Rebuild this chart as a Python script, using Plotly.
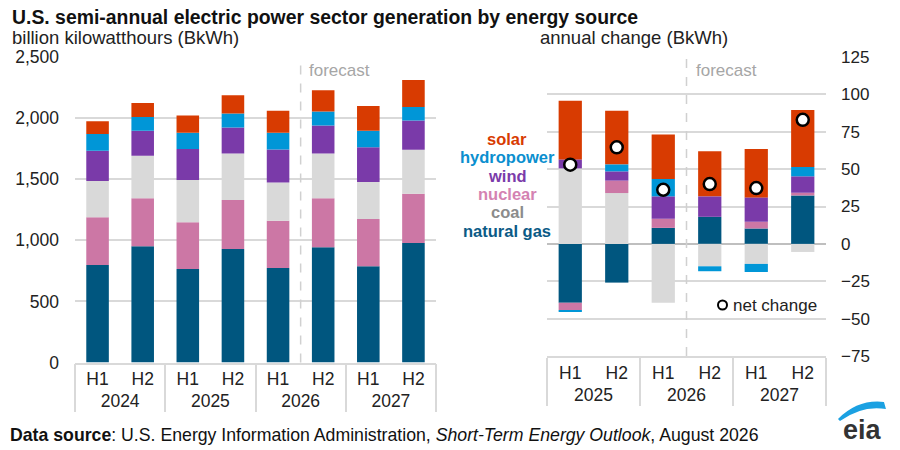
import plotly.graph_objects as go

# ---------------- data ----------------
years_left = ["2024", "2024", "2025", "2025", "2026", "2026", "2027", "2027"]
halves_left = ["H1", "H2", "H1", "H2", "H1", "H2", "H1", "H2"]

gen_gas = [798, 951, 765, 929, 773, 943, 787, 978]
gen_nuclear = [390, 393, 382, 401, 388, 401, 388, 402]
gen_coal = [298, 347, 347, 380, 312, 366, 303, 360]
gen_wind = [246, 205, 254, 213, 270, 230, 284, 241]
gen_hydro = [137, 112, 132, 115, 137, 114, 134, 109]
gen_solar = [106, 115, 142, 148, 180, 173, 202, 221]

years_right = ["2025", "2025", "2026", "2026", "2027", "2027"]
halves_right = ["H1", "H2", "H1", "H2", "H1", "H2"]

chg_gas = [-39.4, -25.9, 10.7, 18.1, 10.3, 32.4]
chg_coal = [50.5, 34.0, -39.4, -15.0, -13.4, -5.4]
chg_nuclear = [-5.0, 8.3, 6.1, 0.0, 4.5, 1.8]
chg_wind = [6.0, 6.2, 15.0, 13.7, 16.3, 11.0]
chg_hydro = [-0.7, 4.7, 11.6, -3.3, -5.4, 6.3]
chg_solar = [39.3, 35.8, 29.7, 30.1, 32.4, 38.0]
chg_net = [53.0, 64.6, 36.2, 40.0, 37.3, 83.0]

left_ticks = [0, 500, 1000, 1500, 2000, 2500]
right_ticks = [-75, -50, -25, 0, 25, 50, 75, 100, 125]

# ---------------- styles ----------------
FONT = "Liberation Sans, Arial, sans-serif"
C_GAS, C_NUC, C_COAL = "#00567F", "#CC77A5", "#D9D9D9"
C_WIND, C_HYDRO, C_SOLAR = "#7A3AA9", "#0096D7", "#D83B01"
GRID = "#D9D9D9"
TXT = "#222222"

fig = go.Figure()

xl = [years_left, halves_left]
xr = [years_right, halves_right]

for name, vals, col in [("natural gas", gen_gas, C_GAS), ("nuclear", gen_nuclear, C_NUC),
                        ("coal", gen_coal, C_COAL), ("wind", gen_wind, C_WIND),
                        ("hydropower", gen_hydro, C_HYDRO), ("solar", gen_solar, C_SOLAR)]:
    fig.add_trace(go.Bar(x=xl, y=vals, name=name, marker=dict(color=col, line=dict(width=0)),
                         showlegend=False, xaxis="x", yaxis="y"))

for name, vals, col in [("natural gas", chg_gas, C_GAS), ("coal", chg_coal, C_COAL),
                        ("nuclear", chg_nuclear, C_NUC), ("wind", chg_wind, C_WIND),
                        ("hydropower", chg_hydro, C_HYDRO), ("solar", chg_solar, C_SOLAR)]:
    fig.add_trace(go.Bar(x=xr, y=vals, name=name, marker=dict(color=col, line=dict(width=0)),
                         showlegend=False, xaxis="x2", yaxis="y2"))

fig.add_trace(go.Scatter(x=xr, y=chg_net, mode="markers", name="net change",
                         marker=dict(size=12, color="white", line=dict(color="black", width=2.5)),
                         showlegend=False, xaxis="x2", yaxis="y2"))

W, H = 900, 450
def px(x):
    return x / W
def py(y):
    return 1 - y / H

xaxis_common = dict(type="multicategory", showdividers=True, dividercolor=GRID, dividerwidth=1.5,
                    showline=True, linecolor=GRID, linewidth=1.5, showgrid=False,
                    ticks="outside", ticklen=14, tickcolor="rgba(0,0,0,0)",
                    tickfont=dict(family=FONT, size=17.5, color=TXT))

fig.update_layout(
    width=W, height=H, margin=dict(l=0, r=0, t=0, b=0, pad=0), autosize=False,
    paper_bgcolor="white", plot_bgcolor="white",
    barmode="relative", bargap=0.5,
    font=dict(family=FONT, color=TXT),
    xaxis=dict(domain=[px(75), px(436)], anchor="y", automargin=False, **xaxis_common),
    yaxis=dict(domain=[py(362.5), py(57)], range=[0, 2500], tickvals=left_ticks,
               tickformat=",", showgrid=True, gridcolor=GRID, gridwidth=1.5, automargin=False,
               zeroline=False, showline=False, ticks="", ticklabelstandoff=15,
               anchor="x", tickfont=dict(family=FONT, size=17.5, color=TXT)),
    xaxis2=dict(domain=[px(547), px(826)], anchor="y2", automargin=False, **xaxis_common),
    yaxis2=dict(domain=[py(356), py(57)], range=[-75, 125], tickvals=right_ticks,
                side="right", anchor="x2", showgrid=True, gridcolor=GRID, gridwidth=1.5,
                zeroline=True, zerolinecolor="#BFBFBF", zerolinewidth=1.5, automargin=False,
                showline=False, ticks="", ticklabelstandoff=14,
                tickfont=dict(family=FONT, size=17, color=TXT)),
)

shapes = []
# forecast lines
shapes.append(dict(type="line", xref="x", yref="paper", x0=4.5, x1=4.5, y0=py(362.5), y1=py(57),
                   line=dict(color="#D0D0D0", width=1.5, dash="dash")))
shapes.append(dict(type="line", xref="x2", yref="paper", x0=2.5, x1=2.5, y0=py(356), y1=py(57),
                   line=dict(color="#D0D0D0", width=1.5, dash="dash")))
# net change legend circle
shapes.append(dict(type="circle", xref="paper", yref="paper",
                   x0=px(718), x1=px(727), y0=py(309.5), y1=py(300.5),
                   line=dict(color="black", width=2), fillcolor="white"))
# eia logo arc
def P(x, y):
    return f"{px(x):.4f},{py(y):.4f}"
arc = (f"M {P(838,419)} Q {P(858,399)} {P(884,402)} L {P(886,409)} "
       f"Q {P(862,405)} {P(840,421)} Z")
shapes.append(dict(type="path", xref="paper", yref="paper", path=arc,
                   fillcolor="#1BA1E2", line=dict(width=0)))
fig.update_layout(shapes=shapes)

ann = []
def A(text, x, y, size=16, color=TXT, xanchor="left", bold=False, **kw):
    if bold:
        text = f"<b>{text}</b>"
    ann.append(dict(text=text, x=px(x), y=py(y), xref="paper", yref="paper", showarrow=False,
                    xanchor=xanchor, yanchor="middle", borderpad=0,
                    font=dict(family=FONT, size=size, color=color), **kw))

A("U.S. semi-annual electric power sector generation by energy source", 11, 17, size=19.4, color="#111", bold=True)
A("billion kilowatthours (BkWh)", 11, 37.5, size=18.5)
A("annual change (BkWh)", 539, 37.5, size=18.5)
A("forecast", 308, 70, size=17, color="#A6A6A6")
A("forecast", 695, 70, size=17, color="#A6A6A6")
A("net change", 732, 305, size=17)

legend_items = [("solar", "#D83B01"), ("hydropower", "#0B8FCF"), ("wind", "#7B3BAA"),
                ("nuclear", "#D482B2"), ("coal", "#8C8C8C"), ("natural gas", "#0B5A86")]
for i, (t, c) in enumerate(legend_items):
    A(t, 507, 139 + i * 18.3, size=16.5, color=c, xanchor="center", bold=True)

A("<b>Data source</b>: U.S. Energy Information Administration, <i>Short-Term Energy Outlook</i>, August 2026",
  9, 435, size=17.7, color="#111")
A("<b>eia</b>", 862, 430, size=27, color="#333", xanchor="center")
fig.update_layout(annotations=ann)

post = ("document.body.style.margin='0';document.body.style.padding='0';"
        "document.documentElement.style.overflow='hidden';document.body.style.overflow='hidden';"
        "var gd=document.getElementById('{plot_id}');gd.style.position='fixed';"
        "gd.style.top='0px';gd.style.left='0px';")
fig.write_html("out.html", config={"displayModeBar": False}, post_script=post)
